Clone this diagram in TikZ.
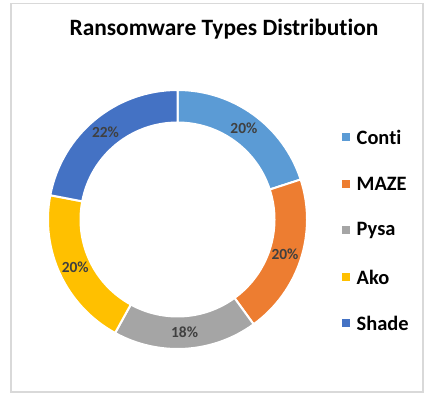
\documentclass[tikz,border=0pt]{standalone}
\usepackage{fontspec}
\setmainfont{Carlito}[Ligatures=NoCommon]
\definecolor{conti}{HTML}{5B9BD5}
\definecolor{maze}{HTML}{ED7D31}
\definecolor{pysa}{HTML}{A5A5A5}
\definecolor{ako}{HTML}{FFC000}
\definecolor{shade}{HTML}{4472C4}
\definecolor{lbltext}{HTML}{404040}
\definecolor{framegray}{HTML}{D9D9D9}
\tikzset{
  lbl/.style={font=\bfseries\fontsize{15.5}{18}\selectfont, text=lbltext, inner sep=0pt},
  legtext/.style={font=\bfseries\fontsize{20.5}{24}\selectfont, text=black, anchor=west, inner sep=0pt},
  legbox/.style={minimum size=8bp, inner sep=0pt},
  slice/.style={draw=white, line width=2bp}
}
\begin{document}
\begin{tikzpicture}[x=1bp,y=1bp]
\useasboundingbox (0,0) rectangle (424,393);
\fill[white] (0,0) rectangle (424,393);
\draw[framegray, line width=1.5bp] (11,1) rectangle (423,389.5);
\node[font=\bfseries\fontsize{23.5}{28}\selectfont, inner sep=0pt] (title) at (224,364) {Ransomware Types Distribution};
\def\R{129.5}
\def\r{97}
\begin{scope}[shift={(177.5,173.5)}]
\foreach \a/\b/\c in {90/18/conti, 18/-54/maze, -54/-118.8/pysa, -118.8/-190.8/ako, -190.8/-270/shade}
  \filldraw[slice, fill=\c] (\a:\R) arc[start angle=\a, end angle=\b, radius=\R] -- (\b:\r) arc[start angle=\b, end angle=\a, radius=\r] -- cycle;
\node[lbl] (lconti) at (54:113) {20\%};
\node[lbl] (lmaze) at (-18:113) {20\%};
\node[lbl] (lpysa) at (-86.4:113) {18\%};
\node[lbl] (lako) at (-154.8:113) {20\%};
\node[lbl] (lshade) at (-230.4:113) {22\%};
\end{scope}
\foreach \n/\c/\t/\y in {0/conti/Conti/255.5, 1/maze/MAZE/209, 2/pysa/Pysa/162.5, 3/ako/Ako/116, 4/shade/Shade/69.5}{
  \node[legbox, fill=\c] (box\n) at (345.5,\y) {};
  \node[legtext] (txt\n) at (356.5,\y) {\t};
}
\end{tikzpicture}
\end{document}
